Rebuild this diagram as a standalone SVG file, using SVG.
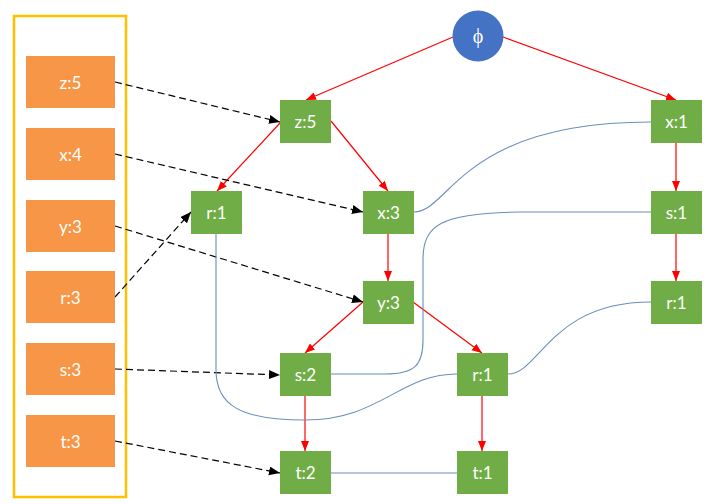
<svg xmlns="http://www.w3.org/2000/svg" width="714" height="504" viewBox="0 0 714 504">
<defs>
<marker id="ar" markerUnits="userSpaceOnUse" markerWidth="12" markerHeight="10" refX="10" refY="4" orient="auto"><path d="M0,0 L10,4 L0,8 Z" fill="#FF0000"/></marker>
<marker id="ab" markerUnits="userSpaceOnUse" markerWidth="13" markerHeight="10" refX="11" refY="4.5" orient="auto"><path d="M0,0 L11,4.5 L0,9 Z" fill="#000"/></marker>
</defs>
<style>
.o{fill:#F79646}
.g{fill:#70AD47}
.t{font-family:Lato,"Open Sans","Liberation Sans",sans-serif;font-size:17px;fill:#fff;text-anchor:middle;dominant-baseline:central}
.r{stroke:#FF0000;stroke-width:1.2;fill:none;marker-end:url(#ar)}
.d{stroke:#000;stroke-width:1.2;stroke-dasharray:7,4;fill:none;marker-end:url(#ab)}
.b{stroke:#6A8EBC;stroke-width:1.1;fill:none}
</style>
<rect x="14" y="16" width="112" height="481" fill="#fff" stroke="#FFC000" stroke-width="2.5"/>
<g id="connectors">
<path class="r" d="M453,37 L306,100"/>
<path class="r" d="M503,37 L676,100"/>
<path class="r" d="M280,123 L217,191"/>
<path class="r" d="M331,121 L388,191"/>
<path class="r" d="M388,234 L388,281"/>
<path class="r" d="M363,302 L305,353"/>
<path class="r" d="M413,302 L482,353"/>
<path class="r" d="M305,396 L305,451"/>
<path class="r" d="M482,396 L482,451"/>
<path class="r" d="M676,143 L676,191"/>
<path class="r" d="M676,234 L676,281"/>
<path class="d" d="M115,82 L280,122"/>
<path class="d" d="M115,154 L363,212"/>
<path class="d" d="M115,226 L363,302"/>
<path class="d" d="M115,297 L191,212"/>
<path class="d" d="M115,369 L280,375"/>
<path class="d" d="M115,441 L280,473"/>
<path class="b" d="M414,212 C450,212 460,122 651,122"/>
<path class="b" d="M331,374 L385,374 C415,374 423,365 423,340 L423,260 C423,225 440,213 520,212 L651,212"/>
<path class="b" d="M216,234 L216,370 C216,405 240,420 305,420 C380,420 400,374 457,374"/>
<path class="b" d="M508,374 C540,374 550,302 651,302"/>
<path class="b" d="M331,473 L457,473"/>
</g>
<g id="phi"><circle cx="478" cy="36" r="25.5" fill="#4472C4"/><text x="478" y="36" style="font-family:'Liberation Serif','DejaVu Serif',serif;font-size:20px;fill:#fff;text-anchor:middle;dominant-baseline:central">ϕ</text></g>
<g id="L-z5"><rect class="o" x="26" y="56" width="89" height="52"/><text class="t" x="70.5" y="82">z:5</text></g>
<g id="L-x4"><rect class="o" x="26" y="128" width="89" height="52"/><text class="t" x="70.5" y="154">x:4</text></g>
<g id="L-y3"><rect class="o" x="26" y="200" width="89" height="52"/><text class="t" x="70.5" y="226">y:3</text></g>
<g id="L-r3"><rect class="o" x="26" y="271" width="89" height="52"/><text class="t" x="70.5" y="297">r:3</text></g>
<g id="L-s3"><rect class="o" x="26" y="343" width="89" height="52"/><text class="t" x="70.5" y="369">s:3</text></g>
<g id="L-t3"><rect class="o" x="26" y="415" width="89" height="52"/><text class="t" x="70.5" y="441">t:3</text></g>
<g id="z5"><rect class="g" x="280" y="100" width="51" height="43"/><text class="t" x="305.5" y="121.5">z:5</text></g>
<g id="r1a"><rect class="g" x="191" y="191" width="51" height="43"/><text class="t" x="216.5" y="212.5">r:1</text></g>
<g id="x3"><rect class="g" x="363" y="191" width="51" height="43"/><text class="t" x="388.5" y="212.5">x:3</text></g>
<g id="y3"><rect class="g" x="363" y="281" width="51" height="43"/><text class="t" x="388.5" y="302.5">y:3</text></g>
<g id="s2"><rect class="g" x="280" y="353" width="51" height="43"/><text class="t" x="305.5" y="374.5">s:2</text></g>
<g id="r1b"><rect class="g" x="457" y="353" width="51" height="43"/><text class="t" x="482.5" y="374.5">r:1</text></g>
<g id="t2"><rect class="g" x="280" y="451" width="51" height="43"/><text class="t" x="305.5" y="472.5">t:2</text></g>
<g id="t1"><rect class="g" x="457" y="451" width="51" height="43"/><text class="t" x="482.5" y="472.5">t:1</text></g>
<g id="x1"><rect class="g" x="651" y="100" width="51" height="43"/><text class="t" x="676.5" y="121.5">x:1</text></g>
<g id="s1"><rect class="g" x="651" y="191" width="51" height="43"/><text class="t" x="676.5" y="212.5">s:1</text></g>
<g id="r1c"><rect class="g" x="651" y="281" width="51" height="43"/><text class="t" x="676.5" y="302.5">r:1</text></g>
</svg>
